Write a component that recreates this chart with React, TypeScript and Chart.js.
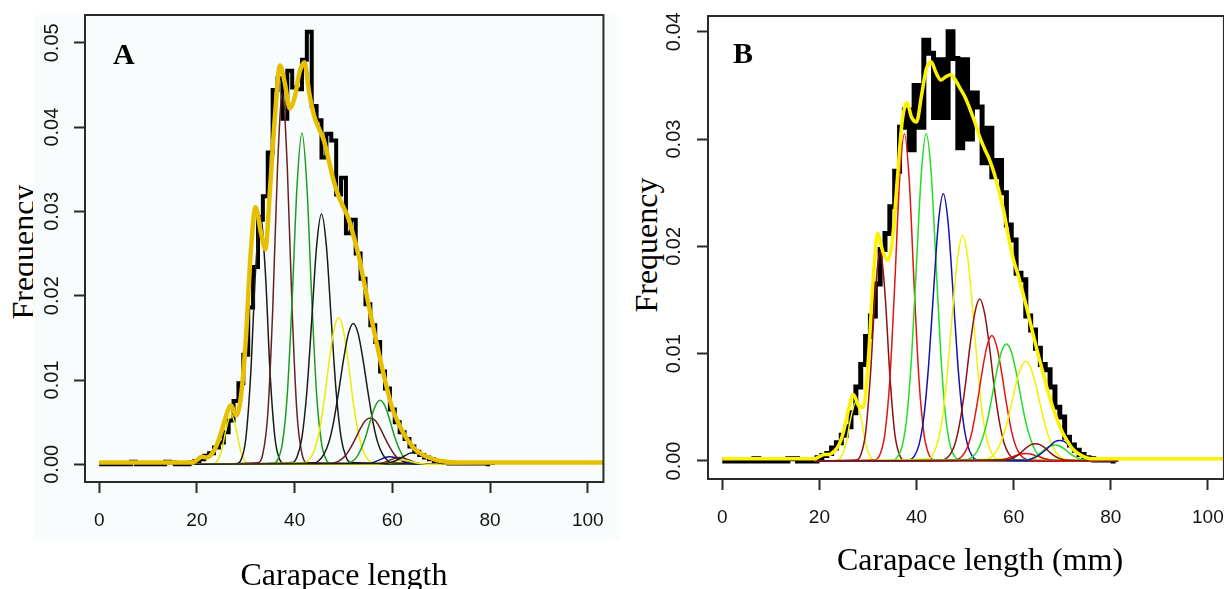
import React, { useEffect, useRef } from 'react';
import { Chart, registerables } from 'chart.js';

Chart.register(...registerables);

// ---------- shared ----------
const X_TICKS = [0, 20, 40, 60, 80, 100];
const A_Y_TICKS = [0, 0.01, 0.02, 0.03, 0.04, 0.05];
const B_Y_TICKS = [0, 0.01, 0.02, 0.03, 0.04];

// ---------- Panel A ----------
// observed frequencies, 1 mm bins starting at 0 mm
const A_OBS = [
  0, 0, 0, 0, 0, 0, 0, 0.0003, 0, 0, 0, 0, 0, 0, 0.0003, 0.0002, 0, 0, 0, 0.0002,
  0.0004, 0.0006, 0.001, 0.0013, 0.002, 0.0026, 0.0038, 0.0052, 0.0075, 0.0096,
  0.013, 0.0186, 0.0234, 0.029, 0.0318, 0.037, 0.0444, 0.0458, 0.041, 0.0467,
  0.0447, 0.0445, 0.048, 0.0513, 0.0425, 0.0408, 0.0364, 0.0392, 0.0384, 0.032,
  0.034, 0.0274, 0.029, 0.025, 0.022, 0.019, 0.0165, 0.0145, 0.011, 0.009,
  0.0065, 0.005, 0.0038, 0.003, 0.0021, 0.0015, 0.0011, 0.0008, 0.0006, 0.0004,
  0.0003, 0.0002, 0.0001, 0.0001, 0.0001, 0.0001, 0.0001, 0.0001, 0.0001, 0.0001, 0
];
// fitted total
const A_FIT_X = [
  0, 5, 10, 15, 19, 20, 21, 22, 23, 24, 25, 26, 27, 28, 29, 30, 31, 32, 33, 34, 35,
  36, 37, 38, 39, 40, 41, 42, 43, 44, 45, 46, 47, 48, 49, 50, 51, 52, 53, 54, 55,
  56, 57, 58, 59, 60, 61, 62, 63, 64, 65, 66, 67, 68, 69, 70, 71, 73, 80, 90, 103.5
];
const A_FIT_Y = [
  0.0002, 0.0002, 0.0002, 0.0002, 0.0002, 0.0005, 0.0009, 0.0008, 0.0012, 0.0022,
  0.0038, 0.0058, 0.007, 0.0058, 0.008, 0.0147, 0.025, 0.0305, 0.0278, 0.0255,
  0.033, 0.0415, 0.0473, 0.0452, 0.0422, 0.0435, 0.0465, 0.0477, 0.044, 0.0413,
  0.0398, 0.0384, 0.036, 0.0336, 0.0318, 0.0305, 0.0292, 0.0272, 0.025, 0.0222,
  0.0193, 0.0165, 0.0138, 0.0112, 0.0088, 0.0066, 0.0052, 0.004, 0.003, 0.0022,
  0.0016, 0.0012, 0.0009, 0.0007, 0.0005, 0.0004, 0.0003, 0.0002, 0.0002, 0.0002, 0.0002
];
// component curves (1 mm steps from their start)
const A_C1 = [0.00002, 0.00026, 0.0015, 0.0042, 0.006, 0.0042, 0.0015, 0.00026, 0.00002];
const A_C2 = [0.00005, 0.0005, 0.003, 0.0106, 0.0229, 0.0295, 0.0229, 0.0106, 0.003, 0.0005, 0.00005];
const A_C3 = [0.00017, 0.00125, 0.0059, 0.0181, 0.0352, 0.044, 0.0352, 0.0181, 0.0059, 0.00125, 0.00017];
const A_C4 = [0.00008, 0.0005, 0.0025, 0.0083, 0.0197, 0.0331, 0.0393, 0.0331, 0.0197, 0.0083, 0.0025, 0.0005, 0.00008];
const A_C5 = [0.0002, 0.0009, 0.0032, 0.0086, 0.0171, 0.0259, 0.0297, 0.0259, 0.0171, 0.0086, 0.0032, 0.0009, 0.0002];
const A_C6 = [0.00017, 0.00057, 0.0016, 0.0038, 0.0074, 0.0119, 0.0158, 0.0174, 0.0158, 0.0119, 0.0074, 0.0038, 0.0016, 0.00057, 0.00017];
const A_C7 = [0.00015, 0.00045, 0.0012, 0.0026, 0.0051, 0.0086, 0.0124, 0.0155, 0.0167, 0.0155, 0.0124, 0.0086, 0.0051, 0.0026, 0.0012, 0.00045, 0.00015];
const A_C8 = [0.0001, 0.00024, 0.00056, 0.0011, 0.002, 0.0031, 0.0043, 0.0052, 0.0055, 0.0052, 0.0043, 0.0031, 0.002, 0.0011, 0.00056, 0.00024, 0.0001];
const A_C9 = [0.00007, 0.00025, 0.0007, 0.0017, 0.0032, 0.0052, 0.0069, 0.0076, 0.0069, 0.0052, 0.0032, 0.0017, 0.0007, 0.00025, 0.00007];
const A_C10 = [0.00004, 0.00012, 0.0003, 0.00055, 0.0008, 0.0009, 0.0008, 0.00055, 0.0003, 0.00012, 0.00004];
const A_C11 = [0.00004, 0.00011, 0.00026, 0.00049, 0.0007, 0.0008, 0.0007, 0.00049, 0.00026, 0.00011, 0.00004];
const A_C12 = [0.00002, 0.00007, 0.00016, 0.0003, 0.00044, 0.0005, 0.00044, 0.0003, 0.00016, 0.00007, 0.00002];
const A_C13 = [0.00008, 0.00019, 0.00039, 0.00068, 0.001, 0.0013, 0.0014, 0.0013, 0.001, 0.00068, 0.00039, 0.00019, 0.00008];
const A_COMP_START = [23, 28, 32.5, 35.5, 39.5, 42, 44, 47.5, 50.5, 54.5, 56.5, 57, 58.5];
const A_COMP_RANGE = [19.5, 81];

// ---------- Panel B ----------
const B_OBS = [
  0, 0, 0, 0, 0, 0, 0, 0.0002, 0, 0, 0, 0, 0, 0, 0.0002, 0.0002, 0, 0, 0, 0,
  0.0003, 0.0005, 0.0007, 0.0012, 0.0017, 0.0024, 0.0032, 0.0045, 0.0069, 0.009,
  0.0116, 0.0135, 0.0165, 0.0197, 0.0212, 0.0237, 0.027, 0.0311, 0.0327, 0.029,
  0.035, 0.0311, 0.0392, 0.038, 0.032, 0.0374, 0.032, 0.04, 0.0375, 0.0292,
  0.0374, 0.03, 0.0343, 0.033, 0.0278, 0.031, 0.0265, 0.028, 0.025, 0.022,
  0.0206, 0.0175, 0.0169, 0.0135, 0.0122, 0.0105, 0.009, 0.0085, 0.0069, 0.005,
  0.0041, 0.0022, 0.0015, 0.001, 0.0006, 0.0003, 0.0002, 0.0001, 0.0001, 0.0001, 0.0001, 0
];
const B_FIT_X = [
  0, 5, 10, 15, 19, 20, 21, 22, 23, 24, 25, 26, 27, 28, 29, 30, 31, 32, 33, 34, 35,
  36, 37, 38, 39, 40, 41, 42, 43, 44, 45, 46, 47, 48, 49, 50, 51, 52, 53, 54, 55,
  56, 57, 58, 59, 60, 61, 62, 63, 64, 65, 66, 67, 68, 69, 70, 71, 72, 73, 74, 75,
  76, 78, 85, 95, 104
];
const B_FIT_Y = [
  0.0002, 0.0002, 0.0002, 0.0002, 0.0002, 0.0004, 0.0006, 0.0006, 0.0009, 0.0015,
  0.0028, 0.0048, 0.0062, 0.0052, 0.005, 0.009, 0.0165, 0.0212, 0.0196, 0.0187,
  0.0205, 0.026, 0.0315, 0.0334, 0.032, 0.0316, 0.034, 0.0365, 0.0372, 0.0362,
  0.0355, 0.0358, 0.036, 0.0355, 0.0347, 0.0339, 0.0328, 0.0316, 0.0302, 0.0291,
  0.0281, 0.0268, 0.0251, 0.0232, 0.0207, 0.0187, 0.0172, 0.0155, 0.0137, 0.0118,
  0.01, 0.0083, 0.0066, 0.0051, 0.0038, 0.0027, 0.0019, 0.0012, 0.0008, 0.0005,
  0.0003, 0.0002, 0.0002, 0.0002, 0.0002, 0.0002
];
const B_C1 = [0.00005, 0.00039, 0.0017, 0.0041, 0.0055, 0.0041, 0.0017, 0.00039, 0.00005];
const B_C2 = [0.00008, 0.00056, 0.0026, 0.008, 0.0156, 0.0195, 0.0156, 0.008, 0.0026, 0.00056, 0.00008];
const B_C3 = [0.00012, 0.00064, 0.0026, 0.0076, 0.0164, 0.0261, 0.0305, 0.0261, 0.0164, 0.0076, 0.0026, 0.00064, 0.00012];
const B_C4 = [0.00007, 0.00034, 0.0013, 0.0041, 0.0099, 0.0185, 0.0269, 0.0305, 0.0269, 0.0185, 0.0099, 0.0041, 0.0013, 0.00034, 0.00007];
const B_C5 = [0.0001, 0.00042, 0.0015, 0.0041, 0.009, 0.0158, 0.0222, 0.0249, 0.0222, 0.0158, 0.009, 0.0041, 0.0015, 0.00042, 0.0001];
const B_C6 = [0.0002, 0.0007, 0.002, 0.0046, 0.009, 0.0144, 0.0191, 0.021, 0.0191, 0.0144, 0.009, 0.0046, 0.002, 0.0007, 0.0002];
const B_C7 = [0.00006, 0.0002, 0.00066, 0.0017, 0.0038, 0.0069, 0.0107, 0.0138, 0.0151, 0.0138, 0.0107, 0.0069, 0.0038, 0.0017, 0.00066, 0.0002, 0.00006];
const B_C8 = [0.00005, 0.00016, 0.00051, 0.0013, 0.0029, 0.0054, 0.0083, 0.0107, 0.0117, 0.0107, 0.0083, 0.0054, 0.0029, 0.0013, 0.00051, 0.00016, 0.00005];
const B_C9 = [0.00014, 0.00038, 0.00093, 0.002, 0.0036, 0.0059, 0.0083, 0.0102, 0.0109, 0.0102, 0.0083, 0.0059, 0.0036, 0.002, 0.00093, 0.00038, 0.00014];
const B_C10 = [0.00016, 0.00041, 0.00094, 0.0019, 0.0033, 0.0052, 0.0072, 0.0087, 0.0093, 0.0087, 0.0072, 0.0052, 0.0033, 0.0019, 0.00094, 0.00041, 0.00016];
const B_C11 = [0.00004, 0.0001, 0.0002, 0.00034, 0.00051, 0.00065, 0.0007, 0.00065, 0.00051, 0.00034, 0.0002, 0.0001, 0.00004];
const B_C12 = [0.00008, 0.0002, 0.00042, 0.00073, 0.0011, 0.0014, 0.0015, 0.0014, 0.0011, 0.00073, 0.00042, 0.0002, 0.00008];
const B_C13 = [0.00007, 0.00016, 0.00034, 0.00063, 0.001, 0.0014, 0.0018, 0.0019, 0.0018, 0.0014, 0.001, 0.00063, 0.00034, 0.00016, 0.00007];
const B_C14 = [0.00009, 0.00022, 0.00044, 0.00078, 0.0012, 0.0015, 0.0016, 0.0015, 0.0012, 0.00078, 0.00044, 0.00022, 0.00009];
const B_COMP_START = [23.5, 27.5, 31.5, 35, 38.5, 42.5, 45, 47.5, 50.5, 54.5, 56.5, 62.5, 62.5, 58.5];
const B_COMP_RANGE = [19, 81.5];

// ---------- styles ----------
const AXIS_COLOR = '#2a2a2a';
const LABEL_COLOR = '#141414';
const SANS = "'Liberation Sans', Arial, sans-serif";
const SERIF = "'Liberation Serif', 'Times New Roman', serif";

const A_BLACK = '#1a1a1a';
const A_BROWN = '#6b2020';
const A_GREEN = '#1f9c1f';
const A_YELLOW = '#ecec00';
const A_NAVY = '#121280';
const A_COMP_COLORS = [A_YELLOW, A_BLACK, A_BROWN, A_GREEN, A_BLACK, A_YELLOW, A_BLACK, A_BROWN, A_GREEN, A_NAVY, A_BROWN, A_YELLOW, A_BLACK];

const B_BROWN = '#8e1212';
const B_RED = '#e21414';
const B_GREEN = '#22dd22';
const B_BLUE = '#1414aa';
const B_YELLOW = '#f2f200';
const B_COMP_COLORS = [B_YELLOW, B_BROWN, B_RED, B_GREEN, B_BLUE, B_YELLOW, B_BROWN, B_RED, B_GREEN, B_YELLOW, B_RED, B_GREEN, B_BLUE, B_BROWN];

const framePlugin = {
  id: 'frame',
  afterDraw(chart: any) {
    const { ctx, chartArea: a } = chart;
    ctx.save();
    ctx.strokeStyle = AXIS_COLOR;
    ctx.lineWidth = 2;
    ctx.strokeRect(a.left, a.top, a.right - a.left, a.bottom - a.top);
    ctx.restore();
  },
};

type PanelSpec = {
  obs: number[];
  fitX: number[];
  fitY: number[];
  comps: number[][];
  compStart: number[];
  compColors: string[];
  compRange: number[];
  fitColor: string;
  fitWidth: number;
  obsWidth: number;
  xMin: number;
  xMax: number;
  yMin: number;
  yMax: number;
  yTicks: number[];
  padTop: number;
  padRight: number;
  yAxisWidth: number;
  xAxisHeight: number;
  yLabelPad: number;
  xLabelPad: number;
};

function buildConfig(p: PanelSpec): any {
  const n = p.comps.length;
  const datasets: any[] = [];
  datasets.push({
    data: p.fitX.map((x, i) => ({ x, y: p.fitY[i] })),
    borderColor: p.fitColor,
    borderWidth: p.fitWidth,
    pointRadius: 0,
    cubicInterpolationMode: 'monotone',
    order: 0,
  });
  p.comps.forEach((ys, i) => {
    const pts = [{ x: p.compRange[0], y: 0 }];
    ys.forEach((y, j) => pts.push({ x: p.compStart[i] + j, y }));
    pts.push({ x: p.compRange[1], y: 0 });
    datasets.push({
      data: pts,
      borderColor: p.compColors[i],
      borderWidth: 1.5,
      pointRadius: 0,
      cubicInterpolationMode: 'monotone',
      order: 1 + (n - 1 - i),
    });
  });
  datasets.push({
    data: p.obs.map((y, i) => ({ x: i, y })),
    borderColor: '#000000',
    borderWidth: p.obsWidth,
    pointRadius: 0,
    stepped: 'middle',
    order: 100,
  });

  return {
    type: 'line',
    data: { datasets },
    options: {
      animation: false,
      responsive: false,
      maintainAspectRatio: false,
      devicePixelRatio: 1,
      events: [],
      layout: { padding: { top: p.padTop, right: p.padRight, left: 0, bottom: 0 } },
      plugins: {
        legend: { display: false },
        tooltip: { enabled: false },
        title: { display: false },
      },
      scales: {
        x: {
          type: 'linear',
          min: p.xMin,
          max: p.xMax,
          afterBuildTicks: (s: any) => {
            s.ticks = X_TICKS.map((v) => ({ value: v }));
          },
          afterFit: (s: any) => {
            s.height = p.xAxisHeight;
          },
          ticks: {
            autoSkip: false,
            minRotation: 0,
            maxRotation: 0,
            padding: p.xLabelPad,
            color: LABEL_COLOR,
            font: { family: SANS, size: 19 },
            callback: (v: any) => String(v),
          },
          grid: {
            drawOnChartArea: false,
            drawTicks: true,
            tickLength: 11,
            tickWidth: 2,
            tickColor: AXIS_COLOR,
            color: AXIS_COLOR,
          },
          border: { display: true, color: AXIS_COLOR, width: 2 },
        },
        y: {
          type: 'linear',
          min: p.yMin,
          max: p.yMax,
          afterBuildTicks: (s: any) => {
            s.ticks = p.yTicks.map((v) => ({ value: v }));
          },
          afterFit: (s: any) => {
            s.width = p.yAxisWidth;
          },
          ticks: {
            autoSkip: false,
            minRotation: 90,
            maxRotation: 90,
            crossAlign: 'center',
            padding: p.yLabelPad,
            color: LABEL_COLOR,
            font: { family: SANS, size: 20 },
            callback: (v: any) => Number(v).toFixed(2),
          },
          grid: {
            drawOnChartArea: false,
            drawTicks: true,
            tickLength: 11,
            tickWidth: 2,
            tickColor: AXIS_COLOR,
            color: AXIS_COLOR,
          },
          border: { display: true, color: AXIS_COLOR, width: 2 },
        },
      },
    },
    plugins: [framePlugin],
  };
}

const PANEL_A: PanelSpec = {
  obs: A_OBS,
  fitX: A_FIT_X,
  fitY: A_FIT_Y,
  comps: [A_C1, A_C2, A_C3, A_C4, A_C5, A_C6, A_C7, A_C8, A_C9, A_C10, A_C11, A_C12, A_C13],
  compStart: A_COMP_START,
  compColors: A_COMP_COLORS,
  compRange: A_COMP_RANGE,
  fitColor: '#e6c000',
  fitWidth: 4.5,
  obsWidth: 4,
  xMin: -2.9,
  xMax: 103.2,
  yMin: -0.0021,
  yMax: 0.0533,
  yTicks: A_Y_TICKS,
  padTop: 15,
  padRight: 11,
  yAxisWidth: 85,
  xAxisHeight: 107,
  yLabelPad: 2.5,
  xLabelPad: 16,
};

const PANEL_B: PanelSpec = {
  obs: B_OBS,
  fitX: B_FIT_X,
  fitY: B_FIT_Y,
  comps: [B_C1, B_C2, B_C3, B_C4, B_C5, B_C6, B_C7, B_C8, B_C9, B_C10, B_C11, B_C12, B_C13, B_C14],
  compStart: B_COMP_START,
  compColors: B_COMP_COLORS,
  compRange: B_COMP_RANGE,
  fitColor: '#fff200',
  fitWidth: 3.5,
  obsWidth: 5,
  xMin: -2.95,
  xMax: 103.3,
  yMin: -0.00168,
  yMax: 0.04147,
  yTicks: B_Y_TICKS,
  padTop: 16,
  padRight: 8,
  yAxisWidth: 88,
  xAxisHeight: 110,
  yLabelPad: 3.5,
  xLabelPad: 16,
};

export default function App() {
  const refA = useRef<HTMLCanvasElement | null>(null);
  const refB = useRef<HTMLCanvasElement | null>(null);

  useEffect(() => {
    const ca = new Chart(refA.current as HTMLCanvasElement, buildConfig(PANEL_A));
    const cb = new Chart(refB.current as HTMLCanvasElement, buildConfig(PANEL_B));
    return () => {
      ca.destroy();
      cb.destroy();
    };
  }, []);

  const serifTitle: React.CSSProperties = {
    position: 'absolute',
    fontFamily: SERIF,
    fontSize: 32,
    lineHeight: '32px',
    color: '#000',
    whiteSpace: 'nowrap',
    textAlign: 'center',
  };

  return (
    <div
      style={{
        position: 'absolute',
        left: 0,
        top: 0,
        width: 1224,
        height: 589,
        overflow: 'hidden',
        background: '#ffffff',
      }}
    >
      {/* Panel A */}
      <div style={{ ...serifTitle, left: 22.7 - 100, top: 252 - 16, width: 200, height: 32, transform: 'rotate(-90deg)' }}>
        Frequency
      </div>
      <div style={{ position: 'absolute', left: 33, top: 15, width: 587, height: 525, background: '#f8fcfc' }} />
      <canvas ref={refA} width={620} height={589} style={{ position: 'absolute', left: 0, top: 0 }} />
      <div
        style={{
          position: 'absolute',
          left: 113,
          top: 38.8,
          fontFamily: SERIF,
          fontWeight: 'bold',
          fontSize: 30,
          lineHeight: '30px',
          color: '#000',
        }}
      >
        A
      </div>
      <div style={{ ...serifTitle, left: 344 - 200, width: 400, top: 558 }}>Carapace length</div>

      {/* Panel B */}
      <div style={{ ...serifTitle, left: 646 - 100, top: 245 - 16, width: 200, height: 32, transform: 'rotate(-90deg)' }}>
        Frequency
      </div>
      <div style={{ position: 'absolute', left: 620, top: 0, width: 604, height: 589, overflow: 'hidden' }}>
        <canvas ref={refB} width={620} height={589} style={{ position: 'absolute', left: 0, top: 0 }} />
      </div>
      <div
        style={{
          position: 'absolute',
          left: 733,
          top: 37.8,
          fontFamily: SERIF,
          fontWeight: 'bold',
          fontSize: 30,
          lineHeight: '30px',
          color: '#000',
        }}
      >
        B
      </div>
      <div style={{ ...serifTitle, left: 980 - 250, width: 500, top: 543 }}>Carapace length (mm)</div>
    </div>
  );
}
